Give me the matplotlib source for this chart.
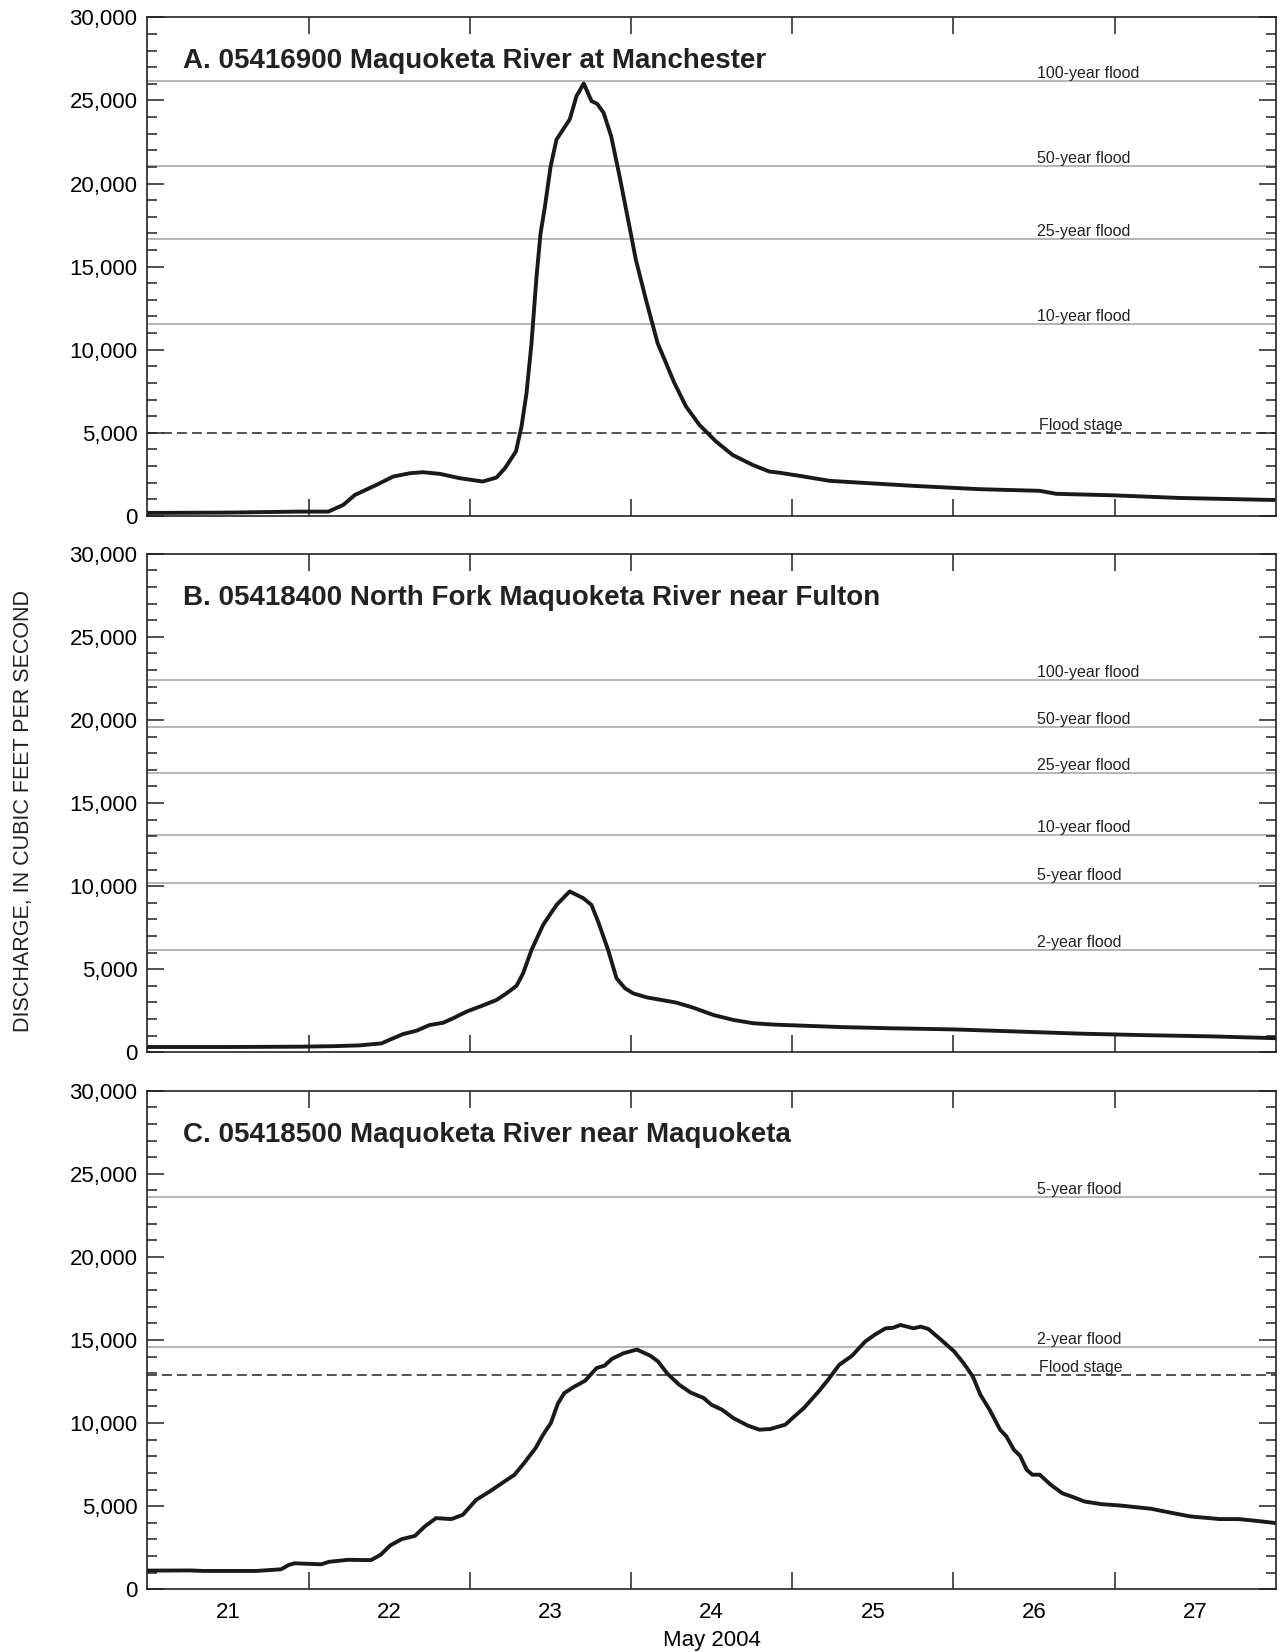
import matplotlib.pyplot as plt
from matplotlib.ticker import MultipleLocator, FixedLocator, NullFormatter

plt.rcParams['font.family'] = ['Liberation Sans', 'DejaVu Sans']

# time is day of May 2004 (fractional), discharge in cubic feet per second
a_day = [21.0, 21.5, 21.947, 22.123, 22.215, 22.287, 22.422, 22.525, 22.63, 22.71, 22.815,
         22.938, 23.08, 23.166, 23.218, 23.286, 23.321, 23.352, 23.383, 23.414, 23.439,
         23.466, 23.501, 23.538, 23.62, 23.662, 23.707, 23.755, 23.79, 23.83, 23.877,
         23.929, 23.99, 24.03, 24.093, 24.165, 24.217, 24.269, 24.341, 24.424, 24.527,
         24.63, 24.754, 24.858, 24.92, 25.046, 25.233, 25.336, 25.75, 25.956, 26.16,
         26.535, 26.638, 26.99, 27.404, 27.983]
a_flow = [180, 200, 260, 260, 660, 1260, 1870, 2370, 2570, 2630, 2530,
          2270, 2070, 2310, 2870, 3870, 5380, 7390, 10400, 14400, 17000,
          18600, 21000, 22650, 23860, 25260, 26020, 24960, 24800, 24260, 22850,
          20440, 17430, 15420, 13000, 10400, 9200, 8000, 6590, 5480, 4480,
          3670, 3070, 2670, 2600, 2410, 2110, 2050, 1810, 1710, 1610,
          1510, 1330, 1240, 1080, 960]

b_day = [21.0, 21.5, 21.947, 22.153, 22.32, 22.453, 22.5, 22.587, 22.67, 22.75, 22.835,
         22.897, 22.98, 23.073, 23.166, 23.228, 23.29, 23.331, 23.383, 23.455, 23.538,
         23.62, 23.703, 23.755, 23.796, 23.858, 23.91, 23.962, 24.013, 24.096, 24.282,
         24.385, 24.51, 24.634, 24.758, 24.882, 25.047, 25.3, 25.6, 26.0, 26.4,
         26.8, 27.2, 27.6, 28.0]
b_flow = [320, 320, 340, 370, 420, 540, 740, 1100, 1300, 1640, 1780,
          2050, 2450, 2790, 3150, 3550, 4000, 4760, 6160, 7670, 8870,
          9680, 9280, 8870, 7870, 6160, 4460, 3860, 3550, 3310, 2990,
          2690, 2250, 1950, 1750, 1670, 1610, 1520, 1450, 1380, 1250,
          1120, 1030, 960, 850]

c_day = [21.0, 21.272, 21.343, 21.676, 21.83, 21.877, 21.913, 22.079, 22.127, 22.245,
         22.387, 22.447, 22.506, 22.577, 22.66, 22.72, 22.791, 22.886, 22.957, 23.04,
         23.123, 23.23, 23.277, 23.337, 23.408, 23.455, 23.503, 23.546, 23.586, 23.645,
         23.716, 23.787, 23.835, 23.882, 23.953, 24.037, 24.12, 24.167, 24.226, 24.298,
         24.369, 24.451, 24.499, 24.565, 24.634, 24.726, 24.796, 24.864, 24.957, 25.002,
         25.072, 25.118, 25.164, 25.222, 25.291, 25.371, 25.452, 25.51, 25.579, 25.625,
         25.671, 25.752, 25.798, 25.844, 25.924, 26.005, 26.063, 26.12, 26.167, 26.224,
         26.289, 26.328, 26.374, 26.413, 26.454, 26.489, 26.535, 26.604, 26.674, 26.743,
         26.812, 26.916, 27.031, 27.227, 27.308, 27.469, 27.653, 27.768, 27.883, 27.999]
c_flow = [1120, 1130, 1100, 1100, 1200, 1460, 1560, 1500, 1650, 1770,
          1750, 2070, 2630, 3010, 3210, 3770, 4280, 4220, 4480, 5380,
          5880, 6580, 6880, 7590, 8490, 9300, 10000, 11160, 11800, 12170,
          12550, 13310, 13450, 13860, 14200, 14420, 14050, 13710, 12970, 12310,
          11840, 11500, 11100, 10800, 10300, 9840, 9600, 9640, 9900, 10300,
          10900, 11400, 11900, 12600, 13500, 14050, 14900, 15300, 15700, 15730,
          15900, 15700, 15800, 15660, 15000, 14300, 13600, 12800, 11700, 10800,
          9600, 9200, 8400, 8030, 7190, 6890, 6890, 6280, 5780, 5540,
          5280, 5120, 5040, 4840, 4680, 4380, 4220, 4220, 4110, 3980]

a_flood_labels = ['100-year flood', '50-year flood', '25-year flood', '10-year flood']
a_flood_values = [26170, 21060, 16670, 11570]
b_flood_labels = ['100-year flood', '50-year flood', '25-year flood', '10-year flood',
                  '5-year flood', '2-year flood']
b_flood_values = [22400, 19600, 16800, 13050, 10180, 6160]
c_flood_labels = ['5-year flood', '2-year flood']
c_flood_values = [23600, 14600]

a_stage = 5000
c_stage = 12900

titles = ['A. 05416900 Maquoketa River at Manchester',
          'B. 05418400 North Fork Maquoketa River near Fulton',
          'C. 05418500 Maquoketa River near Maquoketa']
day_labels = ['21', '22', '23', '24', '25', '26', '27']

fig = plt.figure(figsize=(12.83, 16.52), dpi=100)
left, width = 0.1148, 0.8797
bottoms = [0.6877, 0.3630, 0.0380]
height = 0.3018

panels = [(a_day, a_flow, a_flood_labels, a_flood_values, a_stage),
          (b_day, b_flow, b_flood_labels, b_flood_values, None),
          (c_day, c_flow, c_flood_labels, c_flood_values, c_stage)]

label_x = 26.52
for i, (days, flow, flabels, fvalues, stage) in enumerate(panels):
    ax = fig.add_axes([left, bottoms[i], width, height])
    for lab, val in zip(flabels, fvalues):
        ax.axhline(val, color='#a9a9a9', lw=1.2, zorder=1)
        ax.text(label_x, val + 180, lab, fontsize=11.5, color='#222222', va='baseline', ha='left')
    if stage is not None:
        ax.axhline(stage, color='#444444', lw=1.3, dashes=(5.5, 2.8), zorder=1)
        ax.text(label_x + 0.01, stage + 180, 'Flood stage', fontsize=11.5, color='#222222',
                va='baseline', ha='left')
    ax.plot(days, flow, color='#1a1a1a', lw=2.8, zorder=3, solid_joinstyle='round')
    ax.text(0.0314, 0.898, titles[i], transform=ax.transAxes, fontsize=20,
            fontweight='bold', color='#222222', va='baseline')

    ax.set_xlim(21, 28)
    ax.set_ylim(0, 30000)
    ax.yaxis.set_major_locator(MultipleLocator(5000))
    ax.yaxis.set_minor_locator(MultipleLocator(1000))
    ax.set_yticklabels(['{:,}'.format(int(v)) for v in ax.get_yticks()])
    ax.tick_params(axis='y', which='both', direction='in', left=True, right=True,
                   labelsize=16, pad=7, color='#222222', width=1.1)
    ax.tick_params(axis='y', which='major', length=12)
    ax.tick_params(axis='y', which='minor', length=7)

    ax.xaxis.set_major_locator(FixedLocator([22, 23, 24, 25, 26, 27]))
    ax.xaxis.set_major_formatter(NullFormatter())
    ax.xaxis.set_minor_locator(FixedLocator([d + 0.5 for d in range(21, 28)]))
    ax.tick_params(axis='x', which='major', direction='in', top=True, bottom=True,
                   length=12, width=1.1, color='#222222')
    ax.tick_params(axis='x', which='minor', length=0, labelsize=16, pad=9)
    if i == 2:
        ax.set_xticklabels(day_labels, minor=True)
        ax.set_xlabel('May 2004', fontsize=16, labelpad=5)
    else:
        ax.set_xticklabels([], minor=True)

    for sp in ax.spines.values():
        sp.set_linewidth(1.2)
        sp.set_color('#222222')

fig.text(0.018, 0.509, 'DISCHARGE, IN CUBIC FEET PER SECOND', rotation=90,
         fontsize=15.5, va='center', ha='center', color='#222222')

fig.savefig('out.png', dpi=100)
